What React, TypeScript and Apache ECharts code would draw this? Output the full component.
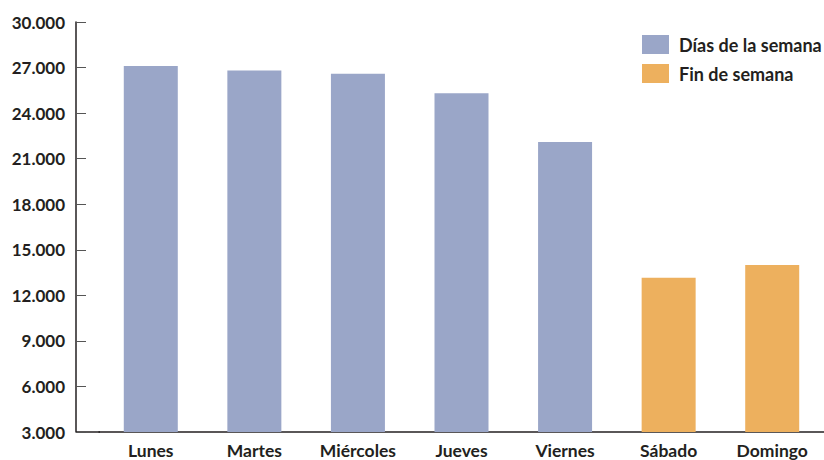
import React, { useEffect, useRef } from "react";
import * as echarts from "echarts";

const categories = ["Lunes", "Martes", "Miércoles", "Jueves", "Viernes", "Sábado", "Domingo"];
const weekdayValues = [27100, 26800, 26600, 25300, 22100, null, null];
const weekendValues = [null, null, null, null, null, 13150, 14000];
const seriesNames = ["Días de la semana", "Fin de semana"];
const yMin = 3000;
const yMax = 30000;
const yInterval = 3000;

const FONT = "Lato";
const TEXT = "#231f20";

export default function App() {
  const ref = useRef<HTMLDivElement>(null);
  useEffect(() => {
    if (!ref.current) return;
    const chart = echarts.init(ref.current, undefined, { renderer: "svg" });
    const fmt = (v: number) => String(v).replace(/\B(?=(\d{3})+(?!\d))/g, ".");
    chart.setOption({
      animation: false,
      backgroundColor: "#ffffff",
      grid: { left: 99, right: -3, top: 22, bottom: 28, containLabel: false },
      legend: {
        orient: "vertical",
        left: 642,
        top: 35,
        padding: 0,
        itemWidth: 27,
        itemHeight: 19,
        itemGap: 10,
        icon: "rect",
        textStyle: { fontFamily: FONT, fontWeight: "bold", fontSize: 18, color: TEXT, padding: [0, 0, 0, 5] },
        data: seriesNames,
      },
      xAxis: {
        type: "category",
        data: categories,
        axisLine: { lineStyle: { color: "#231f20", width: 1.5 } },
        axisTick: { inside: true, length: 9, interval: 0, lineStyle: { color: "#231f20" } },
        axisLabel: { fontFamily: FONT, fontWeight: "bold", fontSize: 17.5, lineHeight: 17, color: TEXT, margin: 10, interval: 0 },
      },
      yAxis: {
        type: "value",
        min: yMin,
        max: yMax,
        interval: yInterval,
        offset: 23,
        axisLine: { show: true, lineStyle: { color: "#231f20", width: 1.5 } },
        axisTick: { show: true, inside: true, length: 10, lineStyle: { color: "#555555" } },
        splitLine: { show: false },
        axisLabel: { fontFamily: FONT, fontWeight: "bold", fontSize: 17, color: TEXT, margin: 11, formatter: fmt },
      },
      graphic: [
        { type: "line", shape: { x1: 76, y1: 432, x2: 100, y2: 432 }, style: { stroke: "#231f20", lineWidth: 1.5 } },
      ],
      series: [
        { name: seriesNames[0], type: "bar", stack: "d", barWidth: 54, data: weekdayValues, itemStyle: { color: "#9aa6c8" } },
        { name: seriesNames[1], type: "bar", stack: "d", barWidth: 54, data: weekendValues, itemStyle: { color: "#edb05e" } },
      ],
    });
    return () => chart.dispose();
  }, []);
  return <div ref={ref} style={{ position: "fixed", left: 0, top: 0, width: 824, height: 460 }} />;
}
